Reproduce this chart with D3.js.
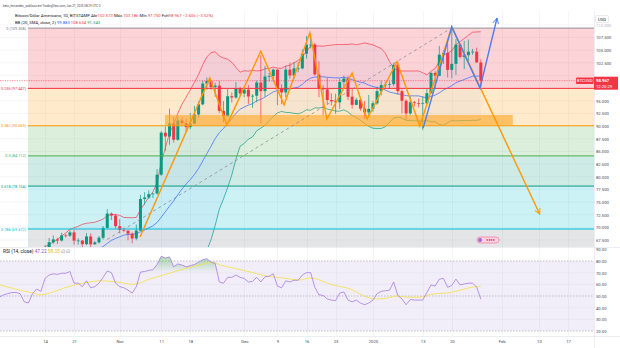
<!DOCTYPE html>
<html><head><meta charset="utf-8">
<script src="https://cdn.jsdelivr.net/npm/d3@7"></script>
<style>
html,body{margin:0;padding:0;background:#fff;}
svg{display:block;font-family:Roboto,"Liberation Sans",sans-serif;}
</style></head><body>
<svg id="chart" width="620" height="348"></svg>
<script>
// ---- daily candles, BTC/USD (thousands), from 2024-10-14 ----
const firstDay = "2024-10-14";
const opens = [62.85,66.05,67.05,67.62,67.40,68.40,68.37,69.00,67.38,67.40,66.68,68.20,66.64,67.03,67.95,69.90,72.72,72.33,
70.23,69.49,69.35,68.75,67.80,69.36,75.60,75.90,76.55,76.68,80.40,88.70,87.95,90.50,87.30,91.10,90.60,89.80,90.50,92.30,94.30,98.40,98.90,97.70,98.00,93.00,91.95,95.90,95.65,97.50,
96.45,97.20,95.85,96.00,98.60,96.90,99.80,99.90,101.15,97.40,96.65,101.15,100.00,101.40,101.40,104.30,106.10,106.10,100.20,97.50,97.25,95.15,94.90,94.70,98.70,99.40,95.80,94.20,95.20,93.45,92.70,
93.40,94.50,96.90,98.10,98.20,98.30,102.10,96.90,95.00,92.50,94.70,94.55,94.50,94.50,96.50,100.50,99.95,104.10,104.45,101.10,102.30,106.10,103.65,104.00,104.70,104.70,102.573];
const highs = [66.50,67.90,68.40,67.95,68.95,68.70,69.40,69.50,67.85,67.45,68.85,68.80,67.30,68.30,70.25,73.60,72.95,72.70,
71.60,69.95,69.40,69.00,70.55,76.40,76.95,77.30,76.80,81.50,89.00,89.95,93.45,91.80,91.85,91.70,91.50,92.60,94.00,94.90,99.00,99.60,98.95,98.60,98.95,94.95,97.30,96.65,98.70,97.75,
97.85,98.15,96.30,99.00,104.00,101.90,100.50,101.35,101.20,98.25,101.90,102.55,102.65,102.60,105.15,107.80,108.30,106.45,102.80,98.10,99.50,96.45,96.40,99.40,99.95,99.95,97.50,95.60,95.25,94.95,96.15,
94.95,97.80,98.95,98.75,98.85,102.45,102.70,97.25,95.35,95.85,95.00,95.40,95.85,97.35,100.65,100.85,105.85,104.95,106.30,109.358,107.20,106.30,106.85,107.10,105.25,105.50,103.186];
const lows = [62.45,64.80,66.75,66.70,67.20,68.00,68.10,66.60,66.60,65.26,66.48,65.55,66.60,66.80,67.60,69.75,71.45,69.70,
68.80,69.05,67.45,66.85,67.45,69.30,74.45,75.60,75.80,76.50,80.20,85.10,86.30,86.70,87.10,90.10,88.80,89.40,90.40,91.60,94.10,97.20,97.15,95.80,92.60,90.80,91.80,94.65,95.40,96.00,
95.70,94.40,93.60,94.70,90.50,95.80,98.80,98.70,94.15,94.30,95.70,99.35,99.25,100.65,101.20,103.35,105.35,100.00,95.70,92.20,94.20,94.05,92.40,93.40,97.55,95.15,93.45,94.10,93.00,91.45,92.00,
92.80,94.20,96.05,97.55,97.30,97.95,96.20,92.50,91.25,92.20,93.85,93.70,89.25,94.30,96.45,97.30,99.95,102.30,99.60,99.45,100.10,103.35,101.25,102.75,104.10,102.50,97.75];
const closes = [66.05,67.05,67.62,67.40,68.40,68.37,69.00,67.38,67.40,66.68,68.20,66.64,67.03,67.95,69.90,72.72,72.33,70.23,
69.49,69.35,68.75,67.80,69.36,75.60,75.90,76.55,76.68,80.40,88.70,87.95,90.50,87.30,91.10,90.60,89.80,90.50,92.30,94.30,98.40,98.90,97.70,98.00,93.00,91.95,95.90,95.65,97.50,96.45,
97.20,95.85,96.00,98.60,96.90,99.80,99.90,101.15,97.40,96.65,101.15,100.00,101.40,101.40,104.30,106.10,106.10,100.20,97.50,97.25,95.15,94.90,94.70,98.70,99.40,95.80,94.20,95.20,93.45,92.70,
93.40,94.50,96.90,98.10,98.20,98.30,102.10,96.90,95.00,92.50,94.70,94.55,94.50,94.50,96.50,100.50,99.95,104.10,104.45,101.10,102.30,106.10,103.65,104.00,104.70,104.70,102.573,98.967];

// ---- Bollinger Bands (20, SMA, 2); day offsets relative to firstDay ----
const bbUpperFrom = 0;
const bbUpper = [66.2,66.6,67.1,67.6,68.3,68.9,69.6,69.9,70.2,70.6,70.8,70.9,71.0,71.3,71.63,72.31,72.55,72.52,72.37,71.96,71.92,71.90,71.96,73.49,74.74,75.95,77.0,78.81,82.87,85.66,88.67,90.32,92.53,94.30,95.71,97.13,98.66,100.19,102.11,103.68,104.49,104.69,103.83,103.45,103.21,102.60,101.60,100.65,100.93,100.87,100.98,100.90,100.97,101.33,101.40,101.65,101.46,101.40,101.86,102.01,102.52,102.97,103.81,104.73,105.84,105.82,105.82,105.78,105.92,106.0,106.10,106.11,106.12,106.13,106.23,106.07,106.23,106.43,106.24,106.06,105.67,105.33,104.38,102.75,101.45,101.0,100.88,100.89,100.88,100.89,100.89,100.55,100.12,100.84,101.37,102.83,104.09,104.40,104.87,106.10,106.71,107.30,107.96,108.54,108.60,108.634];
const bbBasisFrom = 12;
const bbBasis = [65.54,65.83,66.22,66.83,67.43,67.82,68.13,68.46,68.59,68.63,68.72,69.13,69.50,69.91,70.30,70.95,72.01,73.08,74.19,75.22,76.43,77.56,78.56,79.44,80.44,81.65,83.09,84.57,86.02,87.53,88.71,89.53,90.53,91.48,92.52,93.33,93.75,94.15,94.42,94.99,95.28,95.74,96.24,96.77,97.03,97.15,97.28,97.34,97.52,97.69,98.26,98.97,99.48,99.70,99.70,99.74,99.64,99.59,99.53,99.53,99.66,99.46,99.17,98.88,98.68,98.48,98.09,97.82,97.59,97.43,97.12,96.73,96.53,96.37,96.24,96.01,95.98,95.97,95.96,95.75,95.60,95.84,96.12,96.57,97.12,97.54,97.98,98.56,98.90,99.20,99.52,99.84,99.86,99.883];
const bbLowerFrom = 38;
const bbLower = [64.07,65.46,67.55,70.37,73.59,75.61,77.85,80.36,83.44,86.01,86.57,87.43,87.86,89.08,89.59,90.15,91.08,91.89,92.60,92.90,92.70,92.67,92.52,92.41,92.71,93.21,93.12,93.58,93.58,93.70,93.36,93.18,92.96,92.95,93.20,92.79,92.11,91.69,91.13,90.53,89.94,89.58,89.51,89.53,89.86,90.71,91.61,91.74,91.60,91.13,91.08,91.05,91.03,90.95,91.08,90.84,90.87,90.31,90.15,90.68,91.09,91.02,91.09,91.10,91.08,91.14,91.12,91.343];

// ---- RSI (14) daily values, starting 11 days before firstDay ----
const rsiFrom = -11;
const rsiValues = [49,51,52,53,53,52,45,44,52,56,54,
65,68,69,68.5,69.5,69.5,71,61,61,58,63,57,58,61,66,71.5,70,61,
58,57,55,52.5,58,70.5,71,72,72.5,77,84,82.5,83.5,75,77.5,76.5,75,76,77,79,81,82,79,78,62,61,66,66,68,66,
65,62,62.5,66,62,66.5,67,69,58.5,57,63,62,63.5,63.5,68,70,70,57.5,51,50.5,47.5,46.5,46,52.5,53.5,46.5,45,46.5,44,42.5,44,
46.5,52,54,54.5,55,62,50.5,47.5,42.5,47,46.5,46.5,46.5,53,59.5,58.5,64.5,65,57.5,59,64.5,59.5,60.3,61,61,57.7,47.22];
// RSI-based moving average, read at these day offsets
const rsiMaDays = [-10.8,-6,-2.9,-1.2,1.2,5.3,9.2,13.3,17.3,21.2,25.3,29.4,33.2,37.3,40.2,42.2,45.3,49.4,53.5,57.3,61.4,63.8,69.4,73.5,77.6,80,82.4,84.8,87.2,90.3,93.5,96.8,100,103.1,105];
const rsiMaValues = [59.4,55,52.6,51,52.6,57.7,61,63,62,60,64.6,69,73,76.6,79,76.6,74,70.6,67,65.4,63.7,65.4,59.4,56,49,47.4,48.3,50,49,49,51.7,52.6,55,57.7,58.35];

// ---- Fibonacci retracement ----
const fibRatios = [0, 0.236, 0.382, 0.5, 0.618, 0.786];
const fibPrices = [109.358, 97.447, 90.069, 84.112, 78.154, 69.672];
const fibBottom = 58.866;
const fibStartDay = -4.1;
const fibColors = ["#787b86","#f23645","#ff9800","#4caf50","#089981","#00bcd4","#787b86"];

// ---- drawings (day offset, price) ----
const zigDays   = [22.9,39.7,43.8,52.0,57.6,63.8,67.9,74.0,77.6,84.8,90.3,98.0,119.2];
const zigPrices = [68.1,99.5,90.2,104.8,94.2,108.4,91.4,100.5,91.4,102.7,90.0,109.6,72.6];
const blueDays   = [91.1,98.0,104.8,108.9];
const bluePrices = [89.6,109.6,97.5,111.35];
const trendDays   = [15.0,98.0];
const trendPrices = [67.6,109.4];
const zoneDays   = [28.9,112.7];
const zonePrices = [90.069,92.2];

// ---- axes ----
const priceTicks = d3.range(67.5, 110.01, 2.5);
const rsiTicks = [20,30,40,50,60,70,80,90];
const timeTickDates = ["2024-10-14","2024-10-21","2024-11-01","2024-11-11","2024-11-18","2024-12-01","2024-12-09","2024-12-16","2024-12-23","2025-01-01","2025-01-13","2025-01-20","2025-02-01","2025-02-10","2025-02-17"];
const timeTickLabels = ["14","21","Nov","11","18","Dec","9","16","23","2025","13","20","Feb","10","17"];

// ---------------------------------------------------------------
const svg = d3.select("#chart");
const paneR = 594, priceTop = 11, priceBot = 247, rsiTop = 248, rsiBot = 336;
const FS = 4.2;
const t0 = Date.parse(firstDay + "T00:00:00Z");
const atDay = d => new Date(t0 + d * 864e5);

const x = d3.scaleUtc().domain([atDay(0), new Date(Date.parse("2025-02-17T00:00:00Z"))]).range([45, 568]);
const y = d3.scaleLinear().domain([67.5, 107.5]).range([240, 37.5]);
const yr = d3.scaleLinear().domain([20, 80]).range([331, 261]);
const xd = d => x(atDay(d));
const last = closes[closes.length - 1];

// scale a text node's font so that it spans the given width; returns the new size
function fitWidth(sel, width) {
  const n = sel.node(), fs = parseFloat(sel.attr("font-size"));
  const w = n.getComputedTextLength();
  const nfs = w > 0 ? fs * width / w : fs;
  sel.attr("font-size", nfs.toFixed(2));
  return nfs;
}

const defs = svg.append("defs");
defs.append("clipPath").attr("id","clipP").append("rect").attr("x",0).attr("y",priceTop).attr("width",paneR).attr("height",priceBot-priceTop);
defs.append("clipPath").attr("id","clipR").append("rect").attr("x",0).attr("y",rsiTop).attr("width",paneR).attr("height",rsiBot-rsiTop);
defs.append("clipPath").attr("id","clipOB").append("rect").attr("x",0).attr("y",rsiTop).attr("width",paneR).attr("height",yr(70)-rsiTop);
const grad = defs.append("linearGradient").attr("id","obGrad").attr("gradientUnits","userSpaceOnUse")
  .attr("x1",0).attr("x2",0).attr("y1",yr(100)).attr("y2",yr(70));
grad.append("stop").attr("offset",0).attr("stop-color","#4caf50").attr("stop-opacity",1);
grad.append("stop").attr("offset",1).attr("stop-color","#4caf50").attr("stop-opacity",0);
function marker(id, color){
  defs.append("marker").attr("id",id).attr("viewBox","0 0 10 10").attr("refX",9).attr("refY",5)
    .attr("markerWidth",7).attr("markerHeight",7).attr("orient","auto").attr("markerUnits","userSpaceOnUse")
    .append("path").attr("d","M1,1 L9,5 L1,9").attr("fill","none").attr("stroke",color).attr("stroke-width",1.3);
}
marker("arrO","#ff9800"); marker("arrB","#4f7fe8");

svg.append("rect").attr("width",620).attr("height",348).attr("fill","#fff");

// grid
const grid = svg.append("g").attr("stroke","#eef0f4").attr("stroke-width",0.6);
timeTickDates.forEach(s => {
  const gx = Math.round(x(new Date(s + "T00:00:00Z"))) + 0.5;
  grid.append("line").attr("x1",gx).attr("x2",gx).attr("y1",priceTop).attr("y2",rsiBot);
});
priceTicks.forEach(p => grid.append("line").attr("x1",0).attr("x2",paneR).attr("y1",y(p)).attr("y2",y(p)).attr("clip-path","url(#clipP)"));

// price pane
const pp = svg.append("g").attr("clip-path","url(#clipP)");
const fibX0 = xd(fibStartDay);
const fibEdges = fibPrices.concat([fibBottom]);
for (let i = 0; i < fibEdges.length - 1; i++) {
  pp.append("rect").attr("x",fibX0).attr("width",paneR - fibX0)
    .attr("y",y(fibEdges[i])).attr("height",y(fibEdges[i+1]) - y(fibEdges[i]))
    .attr("fill",fibColors[i+1]).attr("fill-opacity",i === 0 ? 0.22 : 0.2);
}

// Bollinger fill + lines
const bandDays = d3.range(bbUpperFrom, bbUpperFrom + bbUpper.length);
const lowerAt = d => (d >= bbLowerFrom ? y(bbLower[d - bbLowerFrom]) : priceBot + 5);
pp.append("path").datum(bandDays)
  .attr("d", d3.area().x(d => xd(d)).y0(d => lowerAt(d)).y1(d => y(bbUpper[d - bbUpperFrom])))
  .attr("fill","#2962ff").attr("fill-opacity",0.04);
const bbLine = (arr, from, color) => pp.append("path").datum(arr)
  .attr("d", d3.line().x((v,i) => xd(from + i)).y(v => y(v)))
  .attr("fill","none").attr("stroke",color).attr("stroke-width",0.8).attr("stroke-opacity",0.85);
bbLine(bbUpper, bbUpperFrom, "#f23645");
bbLine(bbBasis, bbBasisFrom, "#2962ff");
bbLine(bbLower, bbLowerFrom, "#089981");

// candles
const bw = 3;
const cg = pp.append("g");
closes.forEach((c, i) => {
  const o = opens[i], col = c >= o ? "#089981" : "#f23645";
  const cx = xd(i);
  cg.append("line").attr("x1",cx).attr("x2",cx).attr("y1",y(highs[i])).attr("y2",y(lows[i]))
    .attr("stroke",col).attr("stroke-width",0.7);
  const top = y(Math.max(o, c)), h = Math.max(0.7, Math.abs(y(o) - y(c)));
  cg.append("rect").attr("x",cx - bw/2).attr("y",top).attr("width",bw).attr("height",h).attr("fill",col);
});

// fib level lines
fibPrices.forEach((p, i) => {
  pp.append("line").attr("x1",fibX0).attr("x2",paneR).attr("y1",y(p)).attr("y2",y(p))
    .attr("stroke",fibColors[i]).attr("stroke-width", i === 0 ? 0.8 : 1);
});

// support zone
pp.append("rect").attr("x",xd(zoneDays[0])).attr("width",xd(zoneDays[1]) - xd(zoneDays[0]))
  .attr("y",y(zonePrices[1])).attr("height",y(zonePrices[0]) - y(zonePrices[1]))
  .attr("fill","#ffa726").attr("fill-opacity",0.62);

// trend line
pp.append("line").attr("x1",xd(trendDays[0])).attr("y1",y(trendPrices[0])).attr("x2",xd(trendDays[1])).attr("y2",y(trendPrices[1]))
  .attr("stroke","#8a8d96").attr("stroke-width",0.8).attr("stroke-dasharray","3 3");

// zigzag paths
const pathLine = d3.line().x(d => xd(d[0])).y(d => y(d[1]));
pp.append("path").datum(zigDays.map((d,i) => [d, zigPrices[i]])).attr("d",pathLine)
  .attr("fill","none").attr("stroke","#ff9800").attr("stroke-width",1.4).attr("marker-end","url(#arrO)");
pp.append("path").datum(blueDays.map((d,i) => [d, bluePrices[i]])).attr("d",pathLine)
  .attr("fill","none").attr("stroke","#4f7fe8").attr("stroke-width",1.4).attr("marker-end","url(#arrB)");

// current price line
pp.append("line").attr("x1",0).attr("x2",paneR).attr("y1",y(last)).attr("y2",y(last))
  .attr("stroke","#f23645").attr("stroke-width",0.6).attr("stroke-dasharray","1.2 1.2");

// events badge
const bx = xd(104.1);
const badge = svg.append("g");
badge.append("rect").attr("x",bx).attr("y",priceBot - 10).attr("width",22).attr("height",6).attr("rx",3)
  .attr("fill","#fbd3e0").attr("stroke","#f06292").attr("stroke-width",0.6);
badge.append("circle").attr("cx",bx+3).attr("cy",priceBot-7).attr("r",2).attr("fill","#9c6ade");
badge.append("text").attr("x",bx+13.5).attr("y",priceBot-5.6).attr("text-anchor","middle").attr("font-size",3.6)
  .attr("fill","#e91e63").text("●●●●");

// fib labels, right-aligned against the start of the retracement; sized so the longest one fits
const fibLabels = fibPrices.map((p, i) => svg.append("text").attr("x",fibX0 - 2).attr("y",y(p) + 1.5).attr("text-anchor","end")
    .attr("font-size",FS).attr("fill",fibColors[i])
    .text(`${fibRatios[i]} (${p.toFixed(3)})`));
const longest = fibLabels.reduce((a, b) => (b.node().getComputedTextLength() > a.node().getComputedTextLength() ? b : a));
const fibFS = Math.min(FS, fitWidth(longest, fibX0 - 3));
fibLabels.forEach(t => t.attr("font-size", fibFS.toFixed(2)));

// RSI pane
const rp = svg.append("g").attr("clip-path","url(#clipR)");
rp.append("rect").attr("x",0).attr("width",paneR).attr("y",yr(80)).attr("height",yr(20)-yr(80)).attr("fill","#7e57c2").attr("fill-opacity",0.1);
[70,60,40,30].forEach(v => rp.append("line").attr("x1",0).attr("x2",paneR).attr("y1",yr(v)).attr("y2",yr(v)).attr("stroke","#e6e1f0").attr("stroke-width",0.6));
[80,50,20].forEach(v => rp.append("line").attr("x1",0).attr("x2",paneR).attr("y1",yr(v)).attr("y2",yr(v))
  .attr("stroke","#9598a1").attr("stroke-width",0.6).attr("stroke-dasharray","1.5 1.5"));
const rsiPts = rsiValues.map((v,i) => [rsiFrom + i, v]);
rp.append("path").datum(rsiPts).attr("clip-path","url(#clipOB)")
  .attr("d", d3.area().x(d => xd(d[0])).y0(yr(70)).y1(d => yr(d[1])))
  .attr("fill","url(#obGrad)");
rp.append("path").datum(rsiMaDays.map((d,i) => [d, rsiMaValues[i]]))
  .attr("d", d3.line().curve(d3.curveMonotoneX).x(d => xd(d[0])).y(d => yr(d[1])))
  .attr("fill","none").attr("stroke","#f5e042").attr("stroke-width",0.8);
rp.append("path").datum(rsiPts)
  .attr("d", d3.line().x(d => xd(d[0])).y(d => yr(d[1])))
  .attr("fill","none").attr("stroke","#a47be0").attr("stroke-width",0.8);

// separators
const sep = svg.append("g").attr("stroke","#e0e3eb").attr("stroke-width",0.6);
sep.append("line").attr("x1",0).attr("x2",620).attr("y1",priceBot+0.5).attr("y2",priceBot+0.5);
sep.append("line").attr("x1",0).attr("x2",620).attr("y1",rsiBot+0.5).attr("y2",rsiBot+0.5);
sep.append("line").attr("x1",paneR+0.5).attr("x2",paneR+0.5).attr("y1",priceTop).attr("y2",348);

// price axis (the tick hidden under the last-price label is skipped)
const fmtP = d3.format(".3f");
const shownTicks = priceTicks.filter(p => Math.abs(y(p) - y(last)) > 8);
const pa = svg.append("g").attr("transform",`translate(${paneR},0)`)
  .call(d3.axisRight(y).tickValues(shownTicks).tickSize(0).tickPadding(2).tickFormat(fmtP));
pa.select(".domain").remove();
pa.selectAll("text").attr("font-size",FS).attr("fill","#434651").attr("font-family","Roboto,sans-serif");
pa.selectAll(".tick").filter(p => p > 108).select("text").attr("fill","#b2b5be");

// RSI axis
const ra = svg.append("g").attr("transform",`translate(${paneR},0)`)
  .call(d3.axisRight(yr).tickValues(rsiTicks).tickSize(0).tickPadding(2).tickFormat(d3.format(".2f")));
ra.select(".domain").remove();
ra.selectAll("text").attr("font-size",FS).attr("fill","#434651").attr("font-family","Roboto,sans-serif");

// time axis
const ta = svg.append("g").attr("transform",`translate(0,${rsiBot})`)
  .call(d3.axisBottom(x).tickValues(timeTickDates.map(s => new Date(s + "T00:00:00Z"))).tickSize(0).tickPadding(4)
  .tickFormat((d,i) => timeTickLabels[i]));
ta.select(".domain").remove();
ta.selectAll("text").attr("font-size",FS).attr("fill","#434651").attr("font-family","Roboto,sans-serif");

// USD badge
svg.append("rect").attr("x",paneR+1.5).attr("y",15.5).attr("width",13).attr("height",7).attr("rx",1).attr("fill","#fff").attr("stroke","#d1d4dc").attr("stroke-width",0.5);
svg.append("text").attr("x",paneR+8).attr("y",20.5).attr("text-anchor","middle").attr("font-size",FS).attr("fill","#131722").text("USD");

// last price labels
const ly = y(last);
svg.append("rect").attr("x",576).attr("y",ly - 3.3).attr("width",17.5).attr("height",6.6).attr("rx",0.8).attr("fill","#f23645");
svg.append("text").attr("x",584.7).attr("y",ly + 1.4).attr("text-anchor","middle").attr("font-size",FS).attr("fill","#fff").text("BTCUSD");
svg.append("rect").attr("x",paneR).attr("y",ly - 4).attr("width",24).attr("height",13).attr("fill","#f23645");
svg.append("text").attr("x",paneR+2).attr("y",ly + 1.4).attr("font-size",FS).attr("fill","#fff").attr("font-weight","bold").text(fmtP(last));
svg.append("text").attr("x",paneR+2).attr("y",ly + 7.2).attr("font-size",FS).attr("fill","#fff").text("12:20:29");

// RSI legend
const rl = svg.append("text").attr("x",3).attr("y",rsiTop + 5).attr("font-size",FS).attr("fill","#131722");
rl.append("tspan").text("RSI (14, close) ");
rl.append("tspan").attr("fill","#7e57c2").text(" 47.22 ");
rl.append("tspan").attr("fill","#e6c200").text(" 58.35 ");
rl.append("tspan").attr("fill","#787b86").text(" ∅ ∅");
fitWidth(rl, 66);

// header
const h0 = svg.append("text").attr("x",3).attr("y",7).attr("font-size",3.2).attr("fill","#434651")
  .text("beto_fernandes_ publicou em TradingView.com, Jan 27, 2025 08:29 UTC-3");
fitWidth(h0, 97);
const h1 = svg.append("text").attr("x",15).attr("y",17).attr("font-size",FS).attr("fill","#131722");
h1.append("tspan").text("Bitcoin/Dólar Americano, 1D, BITSTAMP ");
[["Abr","102.573"],["Máx.","103.186"],["Mín.","97.750"],["Fch","98.967"]].forEach(([k,v]) => {
  h1.append("tspan").text(" " + k); h1.append("tspan").attr("fill","#f23645").text(v);
});
h1.append("tspan").attr("fill","#f23645").text(" −3.606 (−3.52%)");
fitWidth(h1, 198);
const h2 = svg.append("text").attr("x",15).attr("y",23.5).attr("font-size",FS).attr("fill","#131722");
h2.append("tspan").text("BB (20, SMA, close, 2) ");
h2.append("tspan").attr("fill","#2962ff").text(" " + bbBasis[bbBasis.length-1].toFixed(3));
h2.append("tspan").attr("fill","#f23645").text(" " + bbUpper[bbUpper.length-1].toFixed(3));
h2.append("tspan").attr("fill","#089981").text(" " + bbLower[bbLower.length-1].toFixed(3));
fitWidth(h2, 85);
</script></body></html>
